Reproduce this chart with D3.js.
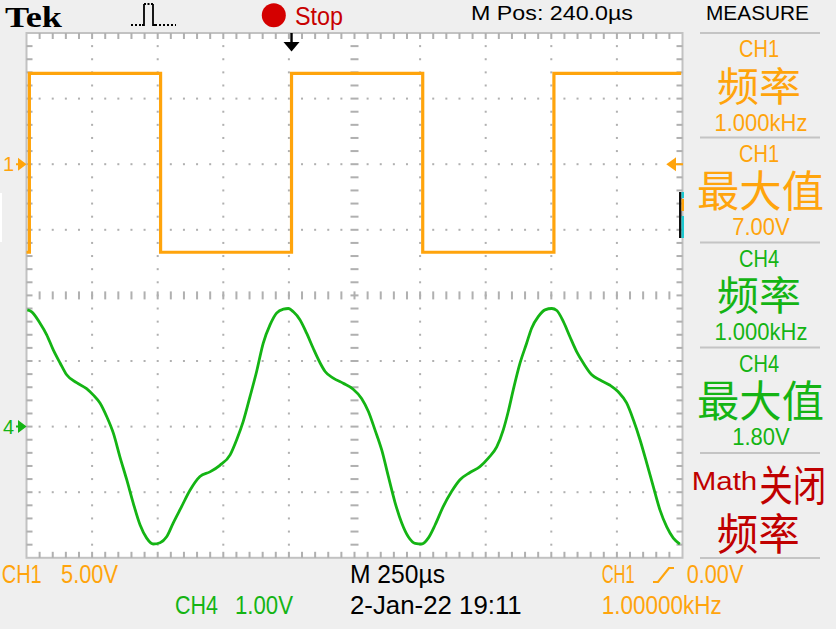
<!DOCTYPE html>
<html lang="zh">
<head>
<meta charset="utf-8">
<title>Tek scope</title>
<script src="https://cdnjs.cloudflare.com/ajax/libs/d3/7.8.5/d3.min.js"></script>
<style>
  html, body { margin: 0; padding: 0; background: #efefef; }
  svg { display: block; }
</style>
</head>
<body>
<div id="scope"></div>
<script>
const width = 836;
const height = 629;
const plotLeft = 26.5, plotRight = 682.5, plotTop = 33, plotBottom = 557.8;
const orange = "#ffa40c";
const green = "#14b414";
const red = "#c00000";
const latin = "'Liberation Sans', 'DejaVu Sans', sans-serif";
const cjk = "'Noto Sans CJK SC', sans-serif";

// time in us relative to trigger, 250 us/div, M Pos 240 us
const timeDomain = [-1010, 1490];
// CH1 5 V/div, ground 2 div above centre ; CH4 1 V/div, ground 2 div below centre
const ch1Domain = [-30, 10];
const ch4Domain = [-2, 6];

// CH1 square wave
const ch1Time = [-1010, -999, -999, -499, -499, 0, 0, 500, 500, 1000, 1000, 1485];
const ch1Volt = [-6.71, -6.71, 6.93, 6.93, -6.71, -6.71, 6.93, 6.93, -6.71, -6.71, 6.93, 6.93];

// CH4 trace
const ch4Time = [-1007, -990, -959, -933, -908, -882, -857, -819, -781, -755, -730, -704, -679, -654, -628, -603, -577, -552, -527, -501, -476, -451, -419, -387, -349, -311, -273, -234, -209, -184, -158, -133, -108, -82, -57, -31, -12, 7,
  32, 58, 83, 109, 128, 159, 197, 235, 267, 293, 318, 344, 369, 394, 420, 445, 471, 496, 521, 547, 578, 610, 642, 680, 718, 750, 782, 807, 826, 845, 871, 896, 915, 941, 966, 992, 1011, 1036, 1061, 1087, 1112, 1144, 1176, 1214, 1245, 1277, 1303, 1328, 1354, 1379, 1404, 1430, 1455, 1480];
const ch4Volt = [1.78, 1.75, 1.58, 1.40, 1.17, 0.97, 0.79, 0.67, 0.58, 0.48, 0.36, 0.15, -0.10, -0.46, -0.81, -1.17, -1.50, -1.70, -1.79, -1.77, -1.68, -1.47, -1.22, -0.97, -0.76, -0.69, -0.59, -0.43, -0.20, 0.08, 0.46, 0.84, 1.27, 1.55, 1.73, 1.79, 1.80, 1.75,
  1.63, 1.42, 1.19, 0.97, 0.84, 0.74, 0.66, 0.57, 0.43, 0.23, -0.05, -0.36, -0.76, -1.15, -1.47, -1.68, -1.78, -1.79, -1.70, -1.50, -1.22, -0.99, -0.81, -0.70, -0.61, -0.48, -0.31, -0.05, 0.23, 0.56, 0.97, 1.27, 1.50, 1.68, 1.78, 1.80, 1.77, 1.60, 1.37, 1.14, 0.97, 0.79, 0.71, 0.63, 0.53, 0.36, 0.10, -0.20, -0.56, -0.92, -1.27, -1.53, -1.70, -1.79];

// measure panel
const measureChannels = ["CH1", "CH1", "CH4", "CH4"];
const measureNames = ["频率", "最大值", "频率", "最大值"];
const measureValues = ["1.000kHz", "7.00V", "1.000kHz", "1.80V"];

const svg = d3.select("#scope")
  .append("svg")
  .attr("width", width)
  .attr("height", height)
  .attr("viewBox", [0, 0, width, height]);

svg.append("rect").attr("width", width).attr("height", height).attr("fill", "#efefef");

const xScale = d3.scaleLinear().domain(timeDomain).range([plotLeft, plotRight]);
const y1Scale = d3.scaleLinear().domain(ch1Domain).range([plotBottom, plotTop]);
const y4Scale = d3.scaleLinear().domain(ch4Domain).range([plotBottom, plotTop]);

// graticule
svg.append("rect")
  .attr("x", plotLeft).attr("y", plotTop)
  .attr("width", plotRight - plotLeft).attr("height", plotBottom - plotTop)
  .attr("fill", "#fff").attr("stroke", "#c2c2c2").attr("stroke-width", 2);

const minorT = d3.range(0, 51).map(i => timeDomain[0] + i * 50);
const minorV = d3.range(0, 41).map(i => ch4Domain[0] + i * 0.2);
const grid = svg.append("g").attr("fill", "#b0b0b0");

minorT.forEach((t, i) => {
  const x = xScale(t);
  if (i > 0 && i < 50) {
    grid.append("rect").attr("x", x - 1).attr("y", plotTop).attr("width", 2).attr("height", 6);
    grid.append("rect").attr("x", x - 1).attr("y", plotBottom - 6).attr("width", 2).attr("height", 6);
    grid.append("rect").attr("x", x - 1).attr("y", y4Scale(2) - 4).attr("width", 2).attr("height", 8);
  }
  // dots on major horizontal lines
  if (i % 5 !== 0) {
    [-1, 0, 1, 3, 4, 5].forEach(v => {
      grid.append("rect").attr("x", x - 1).attr("y", y4Scale(v) - 1).attr("width", 2).attr("height", 2);
    });
  }
});

minorV.forEach((v, i) => {
  const y = y4Scale(v);
  if (i > 0 && i < 40) {
    grid.append("rect").attr("x", plotLeft).attr("y", y - 1).attr("width", 6).attr("height", 2);
    grid.append("rect").attr("x", plotRight - 6).attr("y", y - 1).attr("width", 6).attr("height", 2);
    grid.append("rect").attr("x", xScale(240) - 4).attr("y", y - 1).attr("width", 8).attr("height", 2);
    // dots on major vertical lines
    [1, 2, 3, 4, 6, 7, 8, 9].forEach(k => {
      grid.append("rect").attr("x", xScale(timeDomain[0] + k * 250) - 1).attr("y", y - 1).attr("width", 2).attr("height", 2);
    });
  }
});

// traces
const ch1Line = d3.line().x(i => xScale(ch1Time[i])).y(i => y1Scale(ch1Volt[i]));
svg.append("path")
  .attr("d", ch1Line(d3.range(ch1Time.length)))
  .attr("fill", "none").attr("stroke", orange).attr("stroke-width", 3.2);

const ch4Line = d3.line().curve(d3.curveMonotoneX)
  .x(i => xScale(ch4Time[i])).y(i => y4Scale(ch4Volt[i]));
svg.append("path")
  .attr("d", ch4Line(d3.range(ch4Time.length)))
  .attr("fill", "none").attr("stroke", green).attr("stroke-width", 2.8);

// markers
function marker(y, label, color) {
  svg.append("text").attr("x", 3).attr("y", y).attr("dy", "0.36em")
    .attr("font-family", latin).attr("font-size", 20).attr("fill", color).text(label);
  svg.append("path")
    .attr("d", `M16,${y} h4 M19,${y - 4.5} L25,${y} L19,${y + 4.5} Z`)
    .attr("stroke", color).attr("stroke-width", 2).attr("fill", color);
}
marker(y1Scale(0), "1", orange);
marker(y4Scale(0), "4", green);

// trigger level arrow on right edge
const trigY = y1Scale(0);
svg.append("path")
  .attr("d", `M683,${trigY} h-10 M675,${trigY - 5} L668,${trigY} L675,${trigY + 5} Z`)
  .attr("stroke", orange).attr("stroke-width", 2).attr("fill", orange);

// small channel marks at right edge
svg.append("rect").attr("x", 679).attr("y", 192).attr("width", 2.5).attr("height", 46).attr("fill", "#111");
svg.append("rect").attr("x", 681.5).attr("y", 192).attr("width", 2.5).attr("height", 6).attr("fill", "#1ec8d0");
svg.append("rect").attr("x", 681.5).attr("y", 199).attr("width", 2.5).attr("height", 12).attr("fill", orange);
svg.append("rect").attr("x", 681.5).attr("y", 216).attr("width", 2.5).attr("height", 22).attr("fill", "#1ec8d0");
svg.append("rect").attr("x", 0).attr("y", 193).attr("width", 2).attr("height", 49).attr("fill", "#fff");

// trigger position arrow
const trigX = xScale(0);
svg.append("rect").attr("x", trigX - 1.2).attr("y", plotTop).attr("width", 2.4).attr("height", 10).attr("fill", "#000");
svg.append("path")
  .attr("d", `M${trigX - 8},42 L${trigX + 8},42 L${trigX},51.5 Z`).attr("fill", "#000");

// text helper
function label(x, y, str, size, color, w, family, opts = {}) {
  const t = svg.append("text")
    .attr("x", x).attr("y", y)
    .attr("font-family", family || latin)
    .attr("font-size", size)
    .attr("fill", color)
    .attr("textLength", w)
    .attr("lengthAdjust", "spacingAndGlyphs")
    .text(str);
  if (opts.central) t.attr("dominant-baseline", "central");
  if (opts.bold) t.attr("font-weight", "bold");
  return t;
}

// top bar
label(5, 27.3, "Tek", 30, "#000", 57, "'Liberation Serif', 'DejaVu Serif', serif", { bold: true });
const icon = svg.append("g").attr("fill", "none").attr("stroke", "#000").attr("stroke-width", 1.8);
icon.append("path").attr("d", "M131,25 H142 M155,25 H176").attr("stroke-dasharray", "2,2");
icon.append("path").attr("d", "M142,25 h2 V4 M153,4 V25 h2");
icon.append("path").attr("d", "M144,4 H153").attr("stroke-dasharray", "2,1.5");
svg.append("circle").attr("cx", 273.8).attr("cy", 15.3).attr("r", 12).attr("fill", "#d40000");
label(295, 24.5, "Stop", 25, "#c80000", 48);
label(471, 20, "M Pos: 240.0µs", 20, "#000", 162);
label(706, 20, "MEASURE", 20, "#000", 103);

// measure panel
const sectionTops = [33, 137.5, 242.5, 347.5, 453];
svg.append("g").selectAll("line")
  .data(sectionTops.concat([558]))
  .join("line")
  .attr("x1", 700).attr("x2", 820)
  .attr("y1", d => d).attr("y2", d => d)
  .attr("stroke", "#c4c4c4").attr("stroke-width", 2);

measureChannels.forEach((ch, i) => {
  const top = sectionTops[i];
  const color = ch === "CH1" ? orange : green;
  label(739, top + 24, ch, 24, color, 40);
  const wide = measureNames[i].length === 3;
  label(wide ? 697 : 717, top + 50.5, measureNames[i], wide ? 43 : 40, color, wide ? 127 : 84, cjk, { central: true });
  const vw = measureValues[i].length > 5 ? 93 : 57.5;
  label(760 - vw / 2 + 1, top + 97.5, measureValues[i], 24, color, vw);
});

label(691.7, 490, "Math", 25, red, 65.6);
label(0, 0, "关闭", 37, red, 67, cjk, { central: true })
  .attr("transform", "translate(759.3,482.5) scale(1,1.15)");
label(716.7, 531, "频率", 43, red, 83, cjk, { central: true });

// bottom status line
label(1.7, 583.3, "CH1", 25, orange, 40);
label(61, 583.3, "5.00V", 25, orange, 57);
label(175, 614.3, "CH4", 25, green, 43);
label(235, 614.3, "1.00V", 25, green, 58);
label(350, 583.3, "M 250µs", 25, "#000", 95);
label(350, 614.3, "2-Jan-22 19:11", 25, "#000", 171.7);
label(601.7, 583.3, "CH1", 25, orange, 33);
svg.append("path").attr("d", "M653,582 h5 L669,568 h5")
  .attr("fill", "none").attr("stroke", orange).attr("stroke-width", 2.2);
label(686.7, 583.3, "0.00V", 25, orange, 56.7);
label(601.7, 614.3, "1.00000kHz", 25, orange, 120);
</script>
</body>
</html>
